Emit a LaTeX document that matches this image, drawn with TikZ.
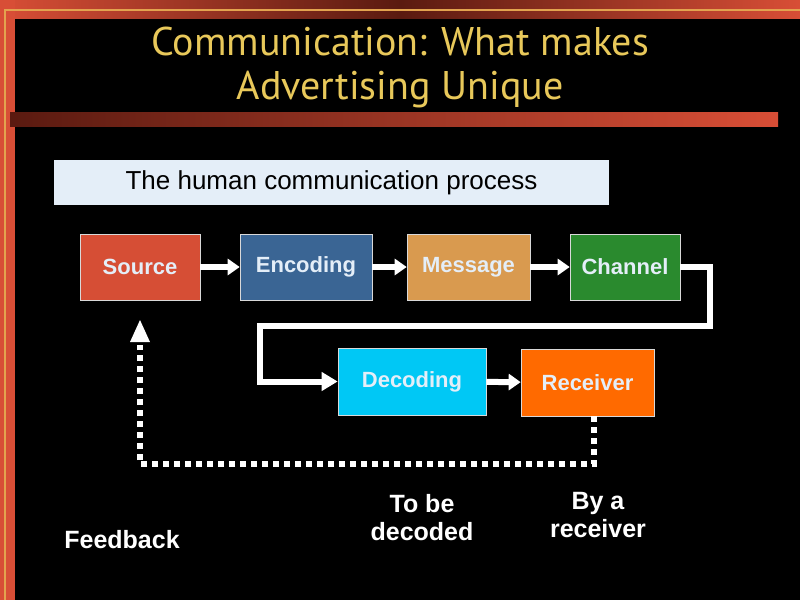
\documentclass[tikz,border=0pt]{standalone}
\usepackage{fontspec}
\setmainfont{Liberation Sans}
\newfontfamily\titlefont{PT Sans}
\usetikzlibrary{arrows.meta}
\definecolor{cSrc}{HTML}{D64E35}
\definecolor{cEnc}{HTML}{3A6594}
\definecolor{cMsg}{HTML}{D99A4F}
\definecolor{cCh}{HTML}{2A8A2E}
\definecolor{cDec}{HTML}{00C8F5}
\definecolor{cRec}{HTML}{FF6A00}
\definecolor{cRed}{HTML}{D84E36}
\definecolor{cDark}{HTML}{5A1A10}
\definecolor{cGold}{HTML}{E8C85A}
\definecolor{cHead}{HTML}{E4EEF8}
\tikzset{
 box/.style={draw=white!70!gray,line width=0.6pt,text=cHead,font=\bfseries\fontsize{22}{24}\selectfont,inner sep=0pt},
 flow/.style={white,line width=6pt,-{Triangle[length=12pt,width=16pt]}},
 fb/.style={white,line width=6pt,dash pattern=on 6pt off 5pt},
 lab/.style={white,font=\bfseries\fontsize{25}{28}\selectfont,align=center}
}
\begin{document}
\begin{tikzpicture}[x=1pt,y=-1pt]
\useasboundingbox (0,0) rectangle (800,600);
\fill[black] (0,0) rectangle (800,600);
\shade[left color=cRed,right color=cRed,middle color=cDark] (0,0) rectangle (800,18);
\fill[cRed] (0,0) rectangle (15,600);
\draw[cGold!70!cRed,line width=1.2pt] (5,600) -- (5,10) -- (800,10);
\shade[left color=cDark,right color=cRed] (10,112) rectangle (778,126);
\node[cGold,font=\titlefont\fontsize{40}{44}\selectfont,align=center] (title) at (400,67) {Communication: What makes\\Advertising Unique};
\node[fill=cHead,minimum width=555,minimum height=45,inner sep=0pt,font=\fontsize{26}{28}\selectfont] (head) at (331.5,182.5) {The human communication process};
\node[box,fill=cSrc,minimum width=120,minimum height=66] (src) at (140,267) {Source};
\node[box,fill=cEnc,minimum width=132,minimum height=66] (enc) at (306,267) {Encoding};
\node[box,fill=cMsg,minimum width=123,minimum height=66] (msg) at (468.5,267) {Message};
\node[box,fill=cCh,minimum width=110,minimum height=66] (ch) at (625,267) {Channel};
\node[box,fill=cDec,minimum width=148,minimum height=67] (dec) at (412,381.5) {Decoding};
\node[box,fill=cRec,minimum width=133,minimum height=67] (rec) at (587.5,382.5) {Receiver};
\draw[flow] (src) -- (enc);
\draw[flow] (enc) -- (msg);
\draw[flow] (msg) -- (ch);
\draw[flow] (dec) -- (rec);
\draw[flow,-{Triangle[length=16pt,width=18pt]}] (ch.east) -- ++(30,0) |- (260,326) |- (dec.west);
\coordinate (fbtop) at (140,322);
\draw[fb] (594,416) -- (594,464) -- (140,464) -- (140,345);
\fill[white] (140,320) -- (130,342) -- (150,342) -- cycle;
\node[lab] (l1) at (122,540) {Feedback};
\node[lab] (l2) at (422,518) {To be\\decoded};
\node[lab] (l3) at (598,515) {By a\\receiver};
\end{tikzpicture}
\end{document}
